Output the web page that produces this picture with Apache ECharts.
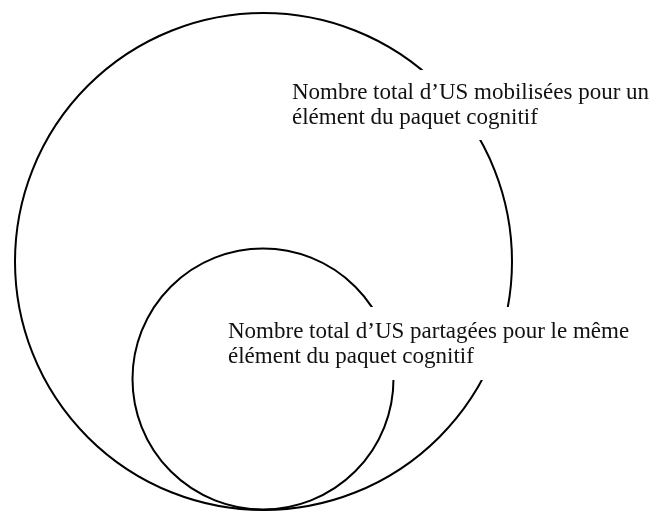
<!DOCTYPE html>
<html>
<head>
<meta charset="utf-8">
<script src="https://cdn.jsdelivr.net/npm/echarts@6/dist/echarts.min.js"></script>
<style>
  html, body { margin: 0; padding: 0; background: #fff; }
  #chart { width: 650px; height: 511px; }
</style>
</head>
<body>
<div id="chart"></div>
<script>
// circles, in page-like units (x to the right, y downward)
const circleNames = ['mobilisées', 'partagées'];
const circleCx = [263.5, 263];
const circleCy = [261.5, 379];
const circleR = [248.5, 130.5];

// text boxes: left edge of text, top and bottom of the white box
const labelLines = [
  ['Nombre total d\u2019US mobilisées pour un', 'élément du paquet cognitif'],
  ['Nombre total d\u2019US partagées pour le même', 'élément du paquet cognitif']
];
const labelX = [292, 228];
const labelTop = [70, 307];
const labelBottom = [140, 380];

const chart = echarts.init(document.getElementById('chart'));

const circleData = circleNames.map((n, i) => ({ name: n, value: [circleCx[i], circleCy[i], circleR[i]] }));
const labelData = labelLines.map((l, i) => ({ name: l.join('\n'), value: [labelX[i], labelTop[i], labelBottom[i]] }));

const FONT = 'Liberation Serif, Times New Roman, serif';
const LINE_H = 25;

chart.setOption({
  animation: false,
  grid: { left: 0, right: 0, top: 0, bottom: 0 },
  xAxis: { type: 'value', min: 0, max: 650, show: false },
  yAxis: { type: 'value', min: 0, max: 511, inverse: true, show: false },
  series: [
    {
      type: 'custom',
      name: 'circles',
      z: 2,
      data: circleData,
      renderItem(params, api) {
        const c = api.coord([api.value(0), api.value(1)]);
        const r = api.size([api.value(2), 0])[0];
        return {
          type: 'circle',
          shape: { cx: c[0], cy: c[1], r: r },
          style: { fill: 'none', stroke: '#000', lineWidth: 2 }
        };
      }
    },
    {
      type: 'custom',
      name: 'labels',
      z: 3,
      data: labelData,
      renderItem(params, api) {
        const p = api.coord([api.value(0), api.value(1)]);
        const bottom = api.coord([0, api.value(2)])[1];
        const boxH = bottom - p[1];
        const padTop = Math.round((boxH - 2 * LINE_H) / 2);
        const padBottom = boxH - 2 * LINE_H - padTop;
        return {
          type: 'text',
          x: p[0] - 6,
          y: p[1],
          style: {
            text: labelData[params.dataIndex].name,
            fill: '#111',
            fontFamily: FONT,
            fontSize: 23,
            lineHeight: LINE_H,
            align: 'left',
            verticalAlign: 'top',
            backgroundColor: '#fff',
            padding: [padTop, 10, padBottom, 6]
          }
        };
      }
    }
  ]
});
</script>
</body>
</html>
